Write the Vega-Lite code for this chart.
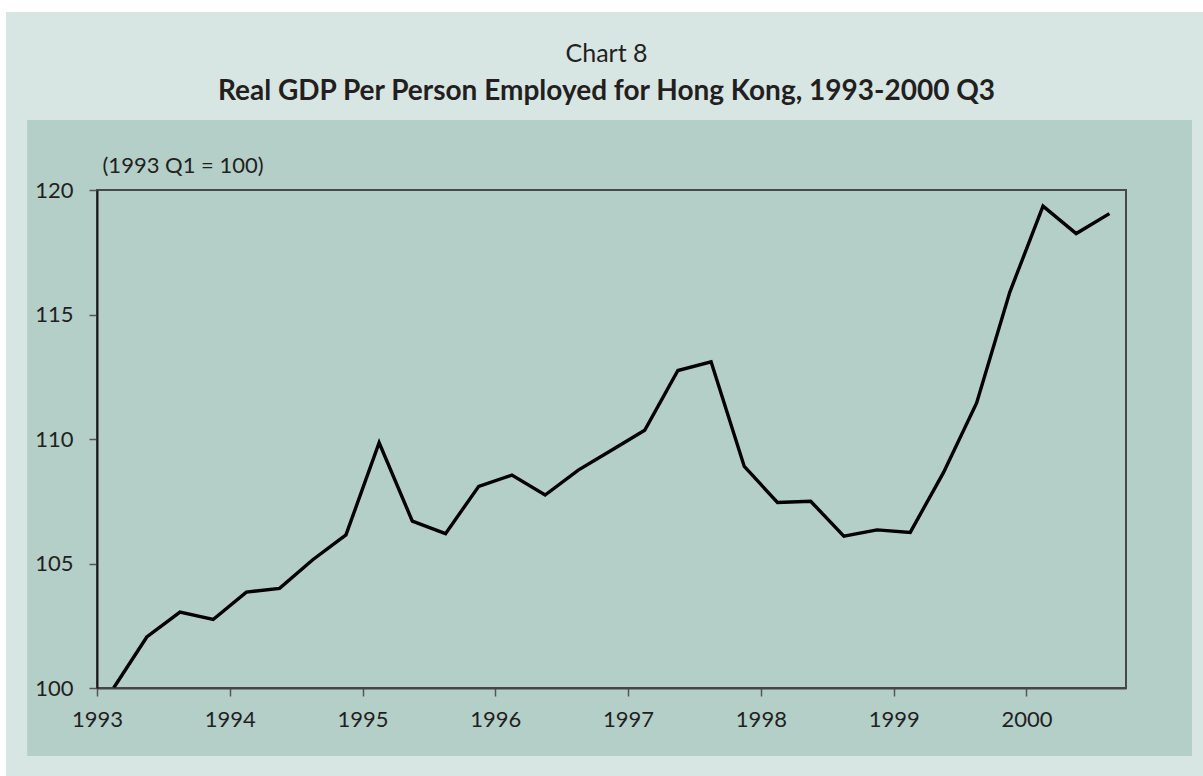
{
  "$schema": "https://vega.github.io/schema/vega-lite/v6.json",
  "width": 1029,
  "height": 498,
  "autosize": {"type": "none"},
  "padding": {"left": 97, "top": 190, "right": 77, "bottom": 88},
  "background": "#ffffff",
  "config": {
    "view": {"stroke": null},
    "font": "Lato",
    "axis": {"labelFont": "Lato", "titleFont": "Lato"}
  },
  "title": {
    "text": "Chart 8",
    "subtitle": "Real GDP Per Person Employed for Hong Kong, 1993-2000 Q3",
    "anchor": "middle",
    "dx": -5,
    "font": "Lato",
    "fontSize": 25,
    "fontWeight": "normal",
    "color": "#231f20",
    "subtitleFont": "Lato",
    "subtitleFontSize": 28,
    "subtitleFontWeight": "bold",
    "subtitleColor": "#231f20",
    "subtitlePadding": 11,
    "offset": -94
  },
  "data": {
    "values": [
      {"t": 1993.125, "value": 100.0},
      {"t": 1993.375, "value": 102.05},
      {"t": 1993.625, "value": 103.05},
      {"t": 1993.875, "value": 102.75},
      {"t": 1994.125, "value": 103.85},
      {"t": 1994.375, "value": 104.0},
      {"t": 1994.625, "value": 105.15},
      {"t": 1994.875, "value": 106.15},
      {"t": 1995.125, "value": 109.85},
      {"t": 1995.375, "value": 106.7},
      {"t": 1995.625, "value": 106.2},
      {"t": 1995.875, "value": 108.1},
      {"t": 1996.125, "value": 108.55},
      {"t": 1996.375, "value": 107.75},
      {"t": 1996.625, "value": 108.75},
      {"t": 1996.875, "value": 109.55},
      {"t": 1997.125, "value": 110.35},
      {"t": 1997.375, "value": 112.75},
      {"t": 1997.625, "value": 113.1},
      {"t": 1997.875, "value": 108.9},
      {"t": 1998.125, "value": 107.45},
      {"t": 1998.375, "value": 107.5},
      {"t": 1998.625, "value": 106.1},
      {"t": 1998.875, "value": 106.35},
      {"t": 1999.125, "value": 106.25},
      {"t": 1999.375, "value": 108.65},
      {"t": 1999.625, "value": 111.45},
      {"t": 1999.875, "value": 115.9},
      {"t": 2000.125, "value": 119.35},
      {"t": 2000.375, "value": 118.25},
      {"t": 2000.625, "value": 119.05}
    ]
  },
  "layer": [
    {
      "mark": {"type": "rect", "fill": "#d8e6e3", "stroke": null},
      "encoding": {
        "x": {"datum": 1992.315, "type": "quantitative", "scale": {"domain": [1993, 2000.75], "nice": false, "zero": false}},
        "x2": {"datum": 2001.4},
        "y": {"datum": 127.15, "type": "quantitative", "scale": {"domain": [100, 120], "nice": false, "zero": false}},
        "y2": {"datum": 96.3}
      }
    },
    {
      "mark": {"type": "rect", "fill": "#b4cfc8", "stroke": null},
      "encoding": {
        "x": {"datum": 1992.48, "type": "quantitative"},
        "x2": {"datum": 2001.247},
        "y": {"datum": 122.81, "type": "quantitative"},
        "y2": {"datum": 97.27}
      }
    },
    {
      "mark": {"type": "rect", "fill": null, "fillOpacity": 0, "stroke": "#4a4a4a", "strokeWidth": 1.6},
      "encoding": {
        "x": {"datum": 1993, "type": "quantitative"},
        "x2": {"datum": 2000.75},
        "y": {"datum": 120, "type": "quantitative"},
        "y2": {"datum": 100}
      }
    },
    {
      "mark": {"type": "line", "color": "#000000", "strokeWidth": 3.4, "strokeJoin": "miter", "strokeCap": "butt"},
      "encoding": {
        "x": {
          "field": "t",
          "type": "quantitative",
          "axis": {
            "values": [1993, 1994, 1995, 1996, 1997, 1998, 1999, 2000],
            "format": "d",
            "title": null,
            "grid": false,
            "zindex": 1,
            "domainColor": "#444444",
            "domainWidth": 2,
            "tickColor": "#555555",
            "tickWidth": 1.5,
            "tickSize": 8,
            "labelFontSize": 22,
            "labelColor": "#231f20",
            "labelPadding": 13,
            "labelFlush": false
          }
        },
        "y": {
          "field": "value",
          "type": "quantitative",
          "axis": {
            "values": [100, 105, 110, 115, 120],
            "title": "(1993 Q1 = 100)",
            "titleAngle": 0,
            "titleAlign": "left",
            "titleBaseline": "middle",
            "titleX": 5,
            "titleY": -25,
            "titleFontSize": 22,
            "titleFontWeight": "normal",
            "titleColor": "#231f20",
            "grid": false,
            "zindex": 1,
            "domainColor": "#1a1a1a",
            "domainWidth": 2,
            "tickColor": "#555555",
            "tickWidth": 1.5,
            "tickSize": 8,
            "labelFontSize": 22,
            "labelColor": "#231f20",
            "labelPadding": 16,
            "labelFlush": false
          }
        }
      }
    }
  ]
}
